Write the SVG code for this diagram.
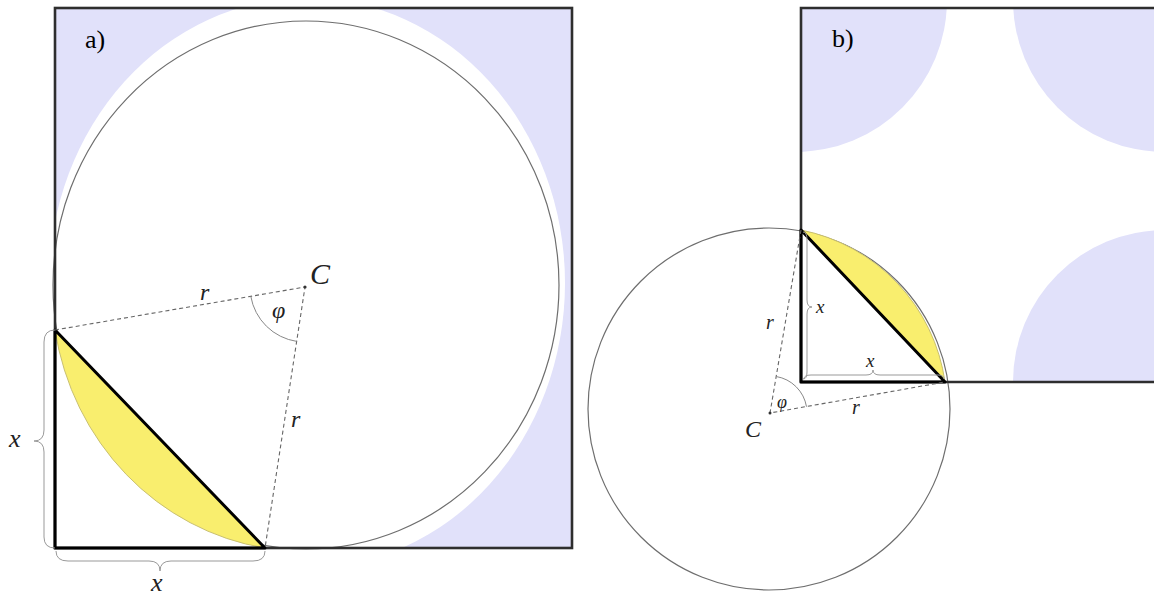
<svg xmlns="http://www.w3.org/2000/svg" width="1154" height="600" viewBox="0 0 1154 600">
<style>
.lav{fill:#e1e1fa;stroke:none}
.seg{fill:#f9ee6e;stroke:#c9c070;stroke-width:1}
.circ{fill:none;stroke:#6e6e6e;stroke-width:1.2}
.frame{fill:none;stroke:#2e2e2e;stroke-width:2.6}
.leg{fill:none;stroke:#000;stroke-width:3;stroke-linejoin:round}
.dash{fill:none;stroke:#666;stroke-width:1.1;stroke-dasharray:4 3}
.ang{fill:none;stroke:#888;stroke-width:1}
.brace{fill:none;stroke:#999;stroke-width:1}
.lbl{font-family:"Liberation Serif","DejaVu Serif",serif;fill:#000}
.m{font-family:"Liberation Serif","DejaVu Serif",serif;font-style:italic;fill:#222}
</style>
<defs>
<clipPath id="clipB"><rect x="801" y="8" width="353" height="374"/></clipPath>
</defs>
<rect x="0" y="0" width="1154" height="600" fill="#fff"/>

<g id="panel-a">
  <polygon class="lav" points="55,8 572,8 572,548 330,548 330,300 55,300"/>
  <ellipse cx="307" cy="283" rx="258" ry="285" fill="#fff"/>
  <ellipse class="circ" cx="306" cy="285" rx="253" ry="264"/>
  <path class="seg" d="M55,330 A253,264 0 0 0 265,548 Z"/>
  <rect class="frame" x="55" y="8" width="517" height="540"/>
  <path class="leg" d="M55,330 V548 H265 Z"/>
  <path class="dash" d="M55,330 L305,287 L265,548"/>
  <circle cx="305" cy="287" r="1.6" fill="#333"/>
  <path class="ang" d="M250.8,296.3 A55,55 0 0 0 296.7,341.4"/>
  <path class="brace" d="M55,330 Q44,330 44,342 L44,430 Q44,441 34,441 Q44,441 44,452 L44,537 Q44,548 55,548"/>
  <path class="brace" d="M56,551 Q56,561 68,561 L149,561 Q160,561 160,571 Q160,561 171,561 L253,561 Q265,561 265,551"/>
  <text class="lbl" x="85" y="48" font-size="26">a)</text>
  <text class="m" x="310" y="284" font-size="30">C</text>
  <text class="m" x="272" y="318" font-size="24">φ</text>
  <text class="m" x="200" y="300" font-size="24">r</text>
  <text class="m" x="291" y="427" font-size="24">r</text>
  <text class="m" x="9" y="447" font-size="26">x</text>
  <text class="m" x="151" y="591" font-size="26">x</text>
</g>

<g id="panel-b">
  <g clip-path="url(#clipB)">
    <circle class="lav" cx="795" cy="0" r="152"/>
    <circle class="lav" cx="1165" cy="0" r="152"/>
    <circle class="lav" cx="1165" cy="382" r="152"/>
  </g>
  <circle class="circ" cx="769" cy="409" r="181"/>
  <path class="seg" d="M801,230 A181,181 0 0 1 945,382 Z"/>
  <path class="frame" d="M1156,8 H801 V382 H1156"/>
  <path class="leg" d="M801,230 V382 H945 Z"/>
  <path class="dash" d="M801,230 L770,413 L945,382"/>
  <circle cx="770" cy="413" r="1.5" fill="#333"/>
  <path class="ang" d="M776.2,376.5 A37,37 0 0 1 806.5,406.7"/>
  <path class="brace" d="M803,232 Q807,232 807,240 L807,300 Q807,307 812,307 Q807,307 807,314 L807,372 Q807,379 803,379"/>
  <path class="brace" d="M804,379 Q804,375 811,375 L866,375 Q873,375 873,370 Q873,375 880,375 L938,375 Q944,375 944,379"/>
  <text class="lbl" x="832" y="47" font-size="26">b)</text>
  <text class="m" x="745" y="437" font-size="24">C</text>
  <text class="m" x="777" y="408" font-size="18">φ</text>
  <text class="m" x="766" y="329" font-size="20">r</text>
  <text class="m" x="852" y="414" font-size="20">r</text>
  <text class="m" x="816" y="313" font-size="19">x</text>
  <text class="m" x="866" y="367" font-size="19">x</text>
</g>
</svg>
